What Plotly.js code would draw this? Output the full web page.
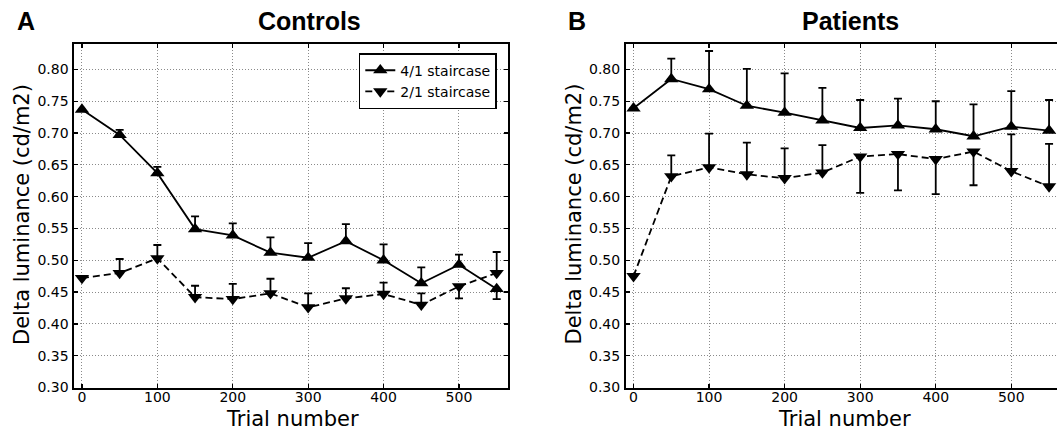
<!DOCTYPE html>
<html>
<head>
<meta charset="utf-8">
<script src="https://cdn.plot.ly/plotly-3.0.1.min.js"></script>
<style>html,body{margin:0;padding:0;background:#fff;}#chart{width:1057px;height:432px;}</style>
</head>
<body>
<div id="chart"></div>
<script>
// ---- data ----
var trials = [0, 50, 100, 150, 200, 250, 300, 350, 400, 450, 500, 550];

var ctrl41     = [0.737, 0.697, 0.637, 0.549, 0.539, 0.512, 0.504, 0.530, 0.500, 0.464, 0.493, 0.455];
var ctrl41Up   = [0, 0.008, 0.010, 0.020, 0.019, 0.024, 0.023, 0.027, 0.025, 0.025, 0.016, 0];
var ctrl41Down = [0, 0, 0, 0, 0, 0, 0, 0, 0, 0, 0, 0.016];

var ctrl21     = [0.472, 0.480, 0.503, 0.442, 0.439, 0.448, 0.426, 0.440, 0.447, 0.430, 0.459, 0.480];
var ctrl21Up   = [0, 0.022, 0.021, 0.018, 0.024, 0.023, 0.022, 0.016, 0.018, 0.018, 0, 0.033];
var ctrl21Down = [0, 0, 0, 0, 0, 0, 0, 0, 0, 0, 0.019, 0];

var pat41     = [0.739, 0.785, 0.769, 0.743, 0.732, 0.720, 0.708, 0.712, 0.706, 0.695, 0.710, 0.704];
var pat41Up   = [0, 0.032, 0.060, 0.058, 0.062, 0.051, 0.044, 0.042, 0.044, 0.050, 0.056, 0.048];
var pat41Down = [0, 0, 0, 0, 0, 0, 0, 0, 0, 0, 0, 0];

var pat21     = [0.475, 0.632, 0.646, 0.635, 0.629, 0.638, 0.663, 0.667, 0.659, 0.671, 0.640, 0.616];
var pat21Up   = [0, 0.033, 0.053, 0.050, 0.047, 0.043, 0, 0, 0, 0, 0.058, 0.067];
var pat21Down = [0, 0, 0, 0, 0, 0, 0.057, 0.057, 0.055, 0.053, 0, 0];

var seriesNames = ['4/1 staircase', '2/1 staircase'];
var panelTitles = ['Controls', 'Patients'];
var panelLetters = ['A', 'B'];
var xTitle = 'Trial number';
var yTitle = 'Delta luminance (cd/m2)';

// ---- styling ----
var TICKFONT = {family: 'DejaVu Sans', size: 14, color: '#000'};
var BOLD = {family: 'Liberation Sans, Arial, sans-serif', size: 25, color: '#000', weight: 'bold'};

function mk(x, y, up, down, name, sym, dash, xa, ya, showleg) {
  return {
    x: x, y: y, name: name, type: 'scatter', mode: 'lines+markers',
    xaxis: xa, yaxis: ya, showlegend: showleg,
    line: {color: '#000', width: 1.8, dash: dash},
    marker: {symbol: sym, size: 12.5, color: '#000', line: {width: 0}},
    error_y: {type: 'data', symmetric: false, array: up, arrayminus: down,
              color: '#000', thickness: 1.8, width: 4}
  };
}

var data = [
  mk(trials, ctrl41, ctrl41Up, ctrl41Down, seriesNames[0], 'triangle-up', 'solid', 'x', 'y', true),
  mk(trials, ctrl21, ctrl21Up, ctrl21Down, seriesNames[1], 'triangle-down', '7px,4px', 'x', 'y', true),
  mk(trials, pat41, pat41Up, pat41Down, seriesNames[0], 'triangle-up', 'solid', 'x2', 'y2', false),
  mk(trials, pat21, pat21Up, pat21Down, seriesNames[1], 'triangle-down', '7px,4px', 'x2', 'y2', false)
];

function xax(domain, range, mirror) {
  return {
    domain: domain, range: range, tick0: 0, dtick: 100, tickmode: 'linear',
    showline: true, linecolor: '#000', linewidth: 2, mirror: mirror,
    ticks: 'inside', ticklen: 4, tickwidth: 1.2, tickcolor: '#000',
    showgrid: true, gridcolor: '#8a8a8a', gridwidth: 1, griddash: '1px,2px',
    zeroline: false, tickfont: TICKFONT, automargin: false, ticklabelstandoff: -4
  };
}
function yax(domain, anchor, mirror) {
  return {
    domain: domain, anchor: anchor, range: [0.30, 0.84], tick0: 0.30, dtick: 0.05, tickmode: 'linear',
    tickformat: '.2f',
    showline: true, linecolor: '#000', linewidth: 2, mirror: mirror,
    ticks: 'inside', ticklen: 4, tickwidth: 1.2, tickcolor: '#000',
    showgrid: true, gridcolor: '#8a8a8a', gridwidth: 1, griddash: '1px,2px',
    zeroline: false, tickfont: TICKFONT, automargin: false, ticklabelstandoff: 1
  };
}

var yDom = [0.1030, 0.8981];
var layout = {
  width: 1057, height: 432,
  margin: {l: 0, r: 0, t: 0, b: 0},
  paper_bgcolor: '#fff', plot_bgcolor: '#fff',
  showlegend: true,
  legend: {x: 0.470, xanchor: 'right', y: 0.877, yanchor: 'top',
           bgcolor: '#fff', bordercolor: '#000', borderwidth: 1.5,
           font: {family: 'DejaVu Sans', size: 14, color: '#000'},
           itemwidth: 30, tracegroupgap: 0},
  xaxis: Object.assign(xax([0.0704, 0.4806], [-10, 565], 'ticks'), {anchor: 'y'}),
  yaxis: yax(yDom, 'x', 'ticks'),
  xaxis2: Object.assign(xax([0.5922, 1.0], [-10, 560.5], 'ticks'), {anchor: 'y2'}),
  yaxis2: yax(yDom, 'x2', false),
  annotations: [
    {text: panelTitles[0], x: 0.2928, y: 0.951, xref: 'paper', yref: 'paper', showarrow: false, font: BOLD, xanchor: 'center', yanchor: 'middle'},
    {text: panelTitles[1], x: 0.8042, y: 0.951, xref: 'paper', yref: 'paper', showarrow: false, font: BOLD, xanchor: 'center', yanchor: 'middle'},
    {text: panelLetters[0], x: 0.0246, y: 0.951, xref: 'paper', yref: 'paper', showarrow: false, font: BOLD, xanchor: 'center', yanchor: 'middle'},
    {text: panelLetters[1], x: 0.5459, y: 0.951, xref: 'paper', yref: 'paper', showarrow: false, font: BOLD, xanchor: 'center', yanchor: 'middle'},
    {text: yTitle, x: 0.0208, y: 0.5046, xref: 'paper', yref: 'paper', showarrow: false, textangle: -90,
     font: {family: 'DejaVu Sans', size: 21, color: '#000'}, xanchor: 'center', yanchor: 'middle'},
    {text: yTitle, x: 0.5435, y: 0.5046, xref: 'paper', yref: 'paper', showarrow: false, textangle: -90,
     font: {family: 'DejaVu Sans', size: 21, color: '#000'}, xanchor: 'center', yanchor: 'middle'},
    {text: xTitle, x: 0.2767, y: 0.031, xref: 'paper', yref: 'paper', showarrow: false,
     font: {family: 'DejaVu Sans', size: 21, color: '#000'}, xanchor: 'center', yanchor: 'middle'},
    {text: xTitle, x: 0.7991, y: 0.031, xref: 'paper', yref: 'paper', showarrow: false,
     font: {family: 'DejaVu Sans', size: 21, color: '#000'}, xanchor: 'center', yanchor: 'middle'}
  ]
};

Plotly.newPlot('chart', data, layout, {staticPlot: true, displayModeBar: false});
</script>
</body>
</html>
